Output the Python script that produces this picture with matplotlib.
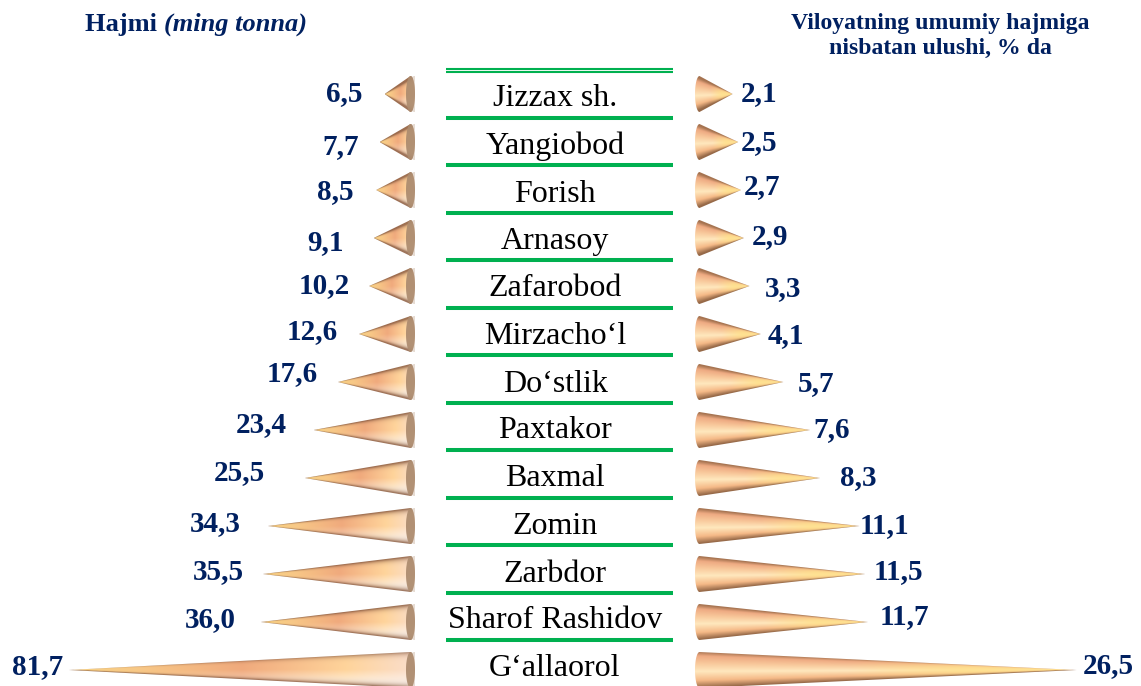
import matplotlib
matplotlib.use('Agg')
import matplotlib.pyplot as plt
import numpy as np
from matplotlib.patches import PathPatch
from matplotlib.path import Path

plt.rcParams['font.family'] = ['Liberation Serif', 'DejaVu Serif']

W, H = 1141, 686
NAVY = '#002060'
GREEN = '#00B050'

tumanlar = ['Jizzax sh.', 'Yangiobod', 'Forish', 'Arnasoy', 'Zafarobod', 'Mirzacho\u2018l',
            'Do\u2018stlik', 'Paxtakor', 'Baxmal', 'Zomin', 'Zarbdor', 'Sharof Rashidov',
            'G\u2018allaorol']
hajmi = [6.5, 7.7, 8.5, 9.1, 10.2, 12.6, 17.6, 23.4, 25.5, 34.3, 35.5, 36.0, 81.7]
ulushi = [2.1, 2.5, 2.7, 2.9, 3.3, 4.1, 5.7, 7.6, 8.3, 11.1, 11.5, 11.7, 26.5]

# label centres in pixels, they are placed by hand in the original too
chap_xy = [(344, 92), (341, 145), (335, 190), (326, 241), (324, 284), (312, 330), (292, 372),
           (261, 423), (239, 471), (215, 522), (218, 570), (210, 618), (38, 665)]
ong_xy = [(759, 92), (759, 141), (762, 185), (770, 235), (783, 287), (786, 334), (816, 382),
          (832, 428), (858, 476), (884, 524), (898, 570), (904, 615), (1108, 664)]
nom_y = [95, 143, 191, 238, 286, 333, 381, 428, 476, 523, 571, 618, 665]
chiziq_y = [117.5, 165, 212.5, 260, 307.5, 355, 402.5, 450, 497.5, 545, 592.5, 640]

# left cones: colour stops from tip to base
STOPS_U = [0.0, 0.2, 0.5, 0.8, 1.0]
STOPS_C = np.array([[248, 210, 130], [248, 200, 135], [240, 170, 125], [255, 212, 155],
                    [250, 222, 205]]) / 255
EDGE = np.array([135, 90, 65]) / 255
# right cones: colour stops across the cone, top to bottom
STOPS_V = [-1.0, -0.75, -0.35, 0.1, 0.6, 1.0]
STOPS_P = np.array([[165, 115, 80], [238, 170, 130], [248, 200, 155], [255, 232, 190],
                    [245, 185, 135], [150, 105, 72]]) / 255
SARIQ = np.array([255, 225, 140]) / 255


def setka(n=220, m=90):
    u = np.linspace(0.001, 1, n)
    y = np.linspace(-1, 1, m)
    uu, yy = np.meshgrid(u, y)
    return uu, np.clip(yy / uu, -1, 1)


def rang_chap():
    uu, v = setka()
    rgb = np.stack([np.interp(uu, STOPS_U, STOPS_C[:, k]) for k in range(3)], axis=-1)
    # pale lower side towards the base, dark rim along both edges
    pale = np.clip(v * 1.4, 0, 1)[..., None] * np.clip(uu * 1.6 - 0.4, 0, 1)[..., None] * 0.6
    rgb = rgb * (1 - pale) + pale
    dark = (np.abs(v)[..., None] ** 6) * 0.8
    return rgb * (1 - dark) + EDGE * dark


def rang_ong():
    uu, v = setka()
    rgb = np.stack([np.interp(v, STOPS_V, STOPS_P[:, k]) for k in range(3)], axis=-1)
    # yellow glow towards the tip
    glow = np.clip((0.6 - uu) / 0.3, 0, 1)[..., None] * (1 - np.abs(v)[..., None] ** 3) * 0.85
    return rgb * (1 - glow) + SARIQ * glow


def konus(ax, i, value, off, cap, image, brown):
    half = 0.375
    tip = value
    base = -off + cap
    t = np.linspace(-np.pi / 2, np.pi / 2, 40)
    xs = np.r_[tip, base - cap * np.cos(t)]
    ys = np.r_[i, i + half * np.sin(t)]
    path = Path(np.c_[np.r_[xs, xs[0]], np.r_[ys, ys[0]]], closed=True)
    img = ax.imshow(image, extent=(tip, -off, i + half, i - half),
                    origin='upper', aspect='auto', interpolation='bilinear', zorder=2)
    img.set_clip_path(PathPatch(path, transform=ax.transData))
    if brown:
        # brown end of the cone, soft towards the tip
        th = np.linspace(0, 2 * np.pi, 80)
        ax.fill(base + 1.9 * cap * np.cos(th) - 0.9 * cap, i + half * np.sin(th),
                color='#B89A80', alpha=0.35, lw=0, zorder=3)
        ax.fill(base + cap * np.cos(th), i + half * np.sin(th), color='#AC8B6E', alpha=0.9,
                lw=0, zorder=3)


def tomon_ax(fig, x0, x1):
    ax = fig.add_axes([x0 / W, 0, (x1 - x0) / W, 1])
    ax.axis('off')
    return ax


def oraliq(ax, xlim):
    ax.set_xlim(*xlim)
    # rows are 48 px apart, first one centred at 94 px
    ax.set_ylim((H - 94) / 48, -94 / 48)


fig = plt.figure(figsize=(W / 100, H / 100), dpi=100)

px_l = 4.2
px_r = 14.1
lim_l = (415 / px_l - 0.75, -0.75)
lim_r = (-0.57, (W - 695) / px_r - 0.57)
ax_l = tomon_ax(fig, 0, 415)
ax_r = tomon_ax(fig, 695, W)

img_l = rang_chap()
img_r = rang_ong()
for i, v in enumerate(hajmi):
    konus(ax_l, i, v, 0.75, 4.5 / px_l, img_l, True)
for i, v in enumerate(ulushi):
    konus(ax_r, i, v, 0.57, 4.5 / px_r, img_r, False)
oraliq(ax_l, lim_l)
oraliq(ax_r, lim_r)

# pixel overlay for the table lines and the texts
bg = fig.add_axes([0, 0, 1, 1], zorder=5)
bg.set_xlim(0, W)
bg.set_ylim(H, 0)
bg.axis('off')
bg.patch.set_alpha(0)

bg.hlines([69, 72], 446, 673, color=GREEN, lw=1.5)
bg.hlines(chiziq_y, 446, 673, color=GREEN, lw=2.9)

for nom, y in zip(tumanlar, nom_y):
    bg.text(555, y + 3, nom, ha='center', va='center', fontsize=23, color='black')
for v, (x, y) in zip(hajmi, chap_xy):
    bg.text(x, y + 2, f'{v:.1f}'.replace('.', ','), ha='center', va='center',
            fontsize=21, fontweight='bold', color=NAVY)
for v, (x, y) in zip(ulushi, ong_xy):
    bg.text(x, y + 2, f'{v:.1f}'.replace('.', ','), ha='center', va='center',
            fontsize=21, fontweight='bold', color=NAVY)

t1 = bg.text(85, 24, 'Hajmi ', ha='left', va='center', fontsize=19, fontweight='bold', color=NAVY)
bg.annotate('(ming tonna)', xy=(1, 0.5), xycoords=t1, va='center', ha='left', fontsize=19,
            fontweight='bold', fontstyle='italic', color=NAVY)
bg.text(940, 36, 'Viloyatning umumiy hajmiga\nnisbatan ulushi, % da', ha='center', va='center',
        fontsize=17.1, fontweight='bold', color=NAVY, linespacing=1.25)

fig.savefig('out.png', dpi=100, facecolor='white')
